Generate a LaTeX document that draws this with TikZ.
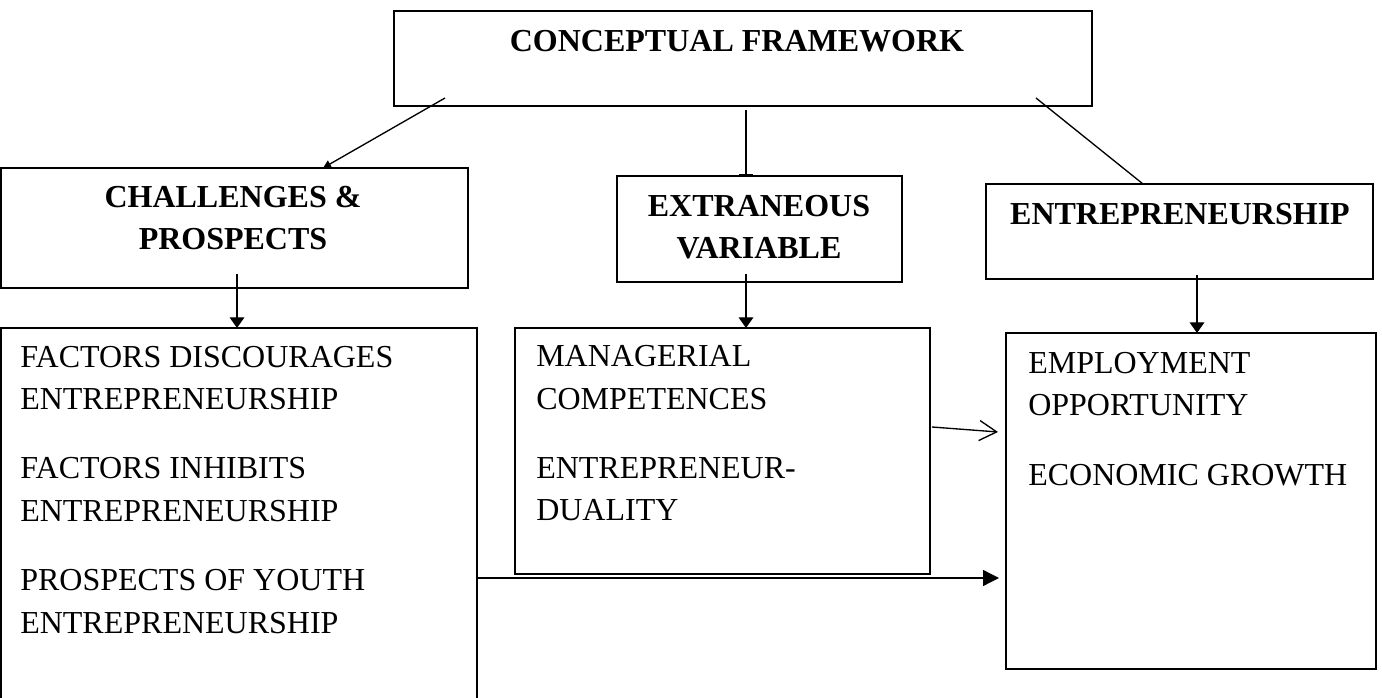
\documentclass[tikz,border=0pt]{standalone}
\usepackage{fontspec}
\setmainfont{Liberation Serif}
\usetikzlibrary{arrows.meta,calc}

\tikzset{
  box/.style={draw, line width=1.2pt, inner sep=0pt, outer sep=0pt},
  txt/.style={inner sep=0pt, font=\fontsize{24}{31.9}\selectfont},
  head/.style={txt, anchor=base, align=center, font=\fontsize{24}{31.9}\selectfont\bfseries},
  body/.style={txt, anchor=base west, align=left},
  link/.style={line width=1pt}
}

\begin{document}
\begin{tikzpicture}[x=0.75pt,y=0.75pt,yscale=-1,xscale=1]
	\useasboundingbox (0,0) rectangle (1382,698);
	
	%Shape: Rectangle
	\node (frame) [box, minimum width=523.5, minimum height=71.25] at (743,58.5) {};
	%Shape: Rectangle
	\node (chal) [box, minimum width=350.25, minimum height=90] at (234.5,228) {};
	%Shape: Rectangle
	\node (extr) [box, minimum width=213.75, minimum height=79.5] at (759.5,229) {};
	%Shape: Rectangle
	\node (entr) [box, minimum width=290.25, minimum height=71.25] at (1179.5,231.5) {};
	%Shape: Rectangle
	\node (fact) [box, minimum width=357, minimum height=309] at (239,534) {};
	%Shape: Rectangle
	\node (mgr) [box, minimum width=311.25, minimum height=184.5] at (722.5,451) {};
	%Shape: Rectangle
	\node (empl) [box, minimum width=277.5, minimum height=252] at (1191,501) {};
	
	%Straight Lines
	\draw [link, -{Triangle[length=6pt,width=6pt]}] ($(frame.south west)+(51,-8)$) -- ($(chal.north)+(88.5,0)$) ;
	%Straight Lines
	\draw [link, -{Bar[width=11pt,line width=1.5pt]}] ($(frame.south)+(3,4)$) -- ($(extr.north west)+(129,0)$) ;
	%Straight Lines
	\draw [link] ($(frame.south east)+(-56,-8)$) -- ($(entr.north west)+(157,0)$) ;
	%Straight Lines
	\draw [link, -{Triangle[length=8pt,width=11pt]}] ($(chal.south)+(2.5,-14)$) -- ($(fact.north west)+(236,0)$) ;
	%Straight Lines
	\draw [link, -{Triangle[length=8pt,width=11pt]}] ($(extr.south)+(-13.5,-8)$) -- ($(mgr.north west)+(231,0)$) ;
	%Straight Lines
	\draw [link, -{Triangle[length=8pt,width=11pt]}] ($(entr.south)+(17.5,-4)$) -- ($(empl.north west)+(191,0)$) ;
	%Straight Lines
	\draw [link, -{Straight Barb[length=13pt,width=15pt,line width=1pt]}] ($(mgr.north east)+(2,99)$) -- ($(empl.north west)+(-8,99)$) ;
	%Straight Lines
	\draw [link, -{Triangle[length=12pt,width=12pt]}] ($(fact.north east)+(0,250)$) -- ($(empl.north west)+(-7,245)$) ;
	
	% Text Node
	\node (frameT) [head] at (737,52) {CONCEPTUAL FRAMEWORK};
	% Text Node
	\node (chalT) [head] at (233,250) {CHALLENGES \&\\PROSPECTS};
	% Text Node
	\node (extrT) [head] at (759,259) {EXTRANEOUS\\VARIABLE};
	% Text Node
	\node (entrT) [head] at (1180,225) {ENTREPRENEURSHIP};
	% Text Node
	\node (factT) [body] at (20,633) {FACTORS DISCOURAGES\\ENTREPRENEURSHIP\\[19.9pt]FACTORS INHIBITS\\ENTREPRENEURSHIP\\[19.9pt]PROSPECTS OF YOUTH\\ENTREPRENEURSHIP};
	% Text Node
	\node (mgrT) [body] at (536,521) {MANAGERIAL\\COMPETENCES\\[19.9pt]ENTREPRENEUR-\\DUALITY};
	% Text Node
	\node (emplT) [body] at (1028,485) {EMPLOYMENT\\OPPORTUNITY\\[19.9pt]ECONOMIC GROWTH};
	
\end{tikzpicture}
\end{document}
